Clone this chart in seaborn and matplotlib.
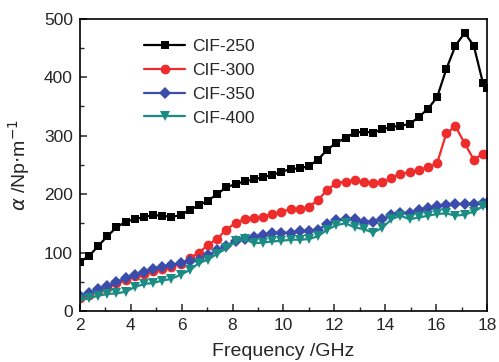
import matplotlib
matplotlib.use("Agg")
import matplotlib.pyplot as plt
import seaborn as sns
import pandas as pd
from matplotlib.ticker import MultipleLocator

freq = [2.00, 2.36, 2.72, 3.08, 3.44, 3.80, 4.16, 4.52, 4.88, 5.24, 5.60, 5.96,
        6.32, 6.68, 7.04, 7.40, 7.76, 8.12, 8.48, 8.84, 9.20, 9.56, 9.92, 10.28,
        10.64, 11.00, 11.36, 11.72, 12.08, 12.44, 12.80, 13.16, 13.52, 13.88,
        14.24, 14.60, 14.96, 15.32, 15.68, 16.04, 16.40, 16.76, 17.12, 17.48,
        17.84, 18.00]

cif250 = [84, 94, 111, 128, 143, 153, 157, 161, 164, 163, 161, 164,
          173, 181, 189, 200, 212, 217, 222, 225, 229, 233, 238, 243,
          244, 248, 259, 276, 288, 296, 305, 307, 305, 311,
          315, 317, 320, 332, 346, 366, 414, 454, 476, 454,
          390, 382]

cif300 = [22, 28, 34, 40, 47, 53, 59, 64, 68, 72, 76, 80,
          90, 100, 113, 124, 139, 151, 157, 159, 161, 166, 170, 174,
          174, 178, 190, 207, 219, 221, 224, 221, 219, 220,
          227, 235, 237, 241, 246, 253, 304, 316, 287, 259,
          269, 268]

cif350 = [25, 31, 37, 43, 50, 56, 62, 67, 71, 75, 79, 82,
          86, 88, 95, 104, 112, 120, 123, 127, 130, 133, 134, 134,
          136, 136, 139, 149, 155, 157, 157, 153, 153, 157,
          164, 168, 168, 172, 176, 179, 182, 183, 183, 183,
          184, 184]

cif400 = [18, 22, 26, 29, 30, 33, 41, 46, 48, 52, 55, 62,
          70, 82, 88, 98, 107, 119, 123, 116, 117, 119, 120, 122,
          122, 123, 128, 139, 147, 150, 143, 140, 134, 142,
          157, 163, 157, 160, 163, 166, 167, 163, 165, 170,
          179, 180]

labels = ["CIF-250", "CIF-300", "CIF-350", "CIF-400"]
colors = ["#000000", "#ee2c2c", "#3a4daa", "#1a8c84"]
markers = ["s", "o", "D", "v"]
msizes = [6, 7, 6, 7]

series = [cif250, cif300, cif350, cif400]
df = pd.concat([pd.DataFrame({"freq": freq, "alpha": s, "sample": lab})
                for s, lab in zip(series, labels)], ignore_index=True)

sns.set_style("ticks")
plt.rcParams["font.family"] = ["Liberation Sans", "DejaVu Sans"]

fig = plt.figure(figsize=(4.99, 3.62), dpi=100)
ax = fig.add_axes([0.160, 0.141, 0.816, 0.807])

for lab, c, m, ms in zip(labels, colors, markers, msizes):
    sns.lineplot(data=df[df["sample"] == lab], x="freq", y="alpha", ax=ax,
                 color=c, marker=m, markersize=ms, markeredgewidth=0,
                 linewidth=1.6, label=lab)

ax.set_xlim(2, 18)
ax.set_ylim(0, 500)
ax.xaxis.set_major_locator(MultipleLocator(2))
ax.xaxis.set_minor_locator(MultipleLocator(1))
ax.yaxis.set_major_locator(MultipleLocator(100))
ax.yaxis.set_minor_locator(MultipleLocator(50))
ax.tick_params(which="both", direction="in", top=False, right=False)
ax.tick_params(which="major", length=5, width=1.1, labelsize=12.5, pad=5)
ax.tick_params(which="minor", length=3, width=1.0)
for sp in ax.spines.values():
    sp.set_linewidth(1.2)
    sp.set_color("black")

ax.set_xlabel("Frequency /GHz", fontsize=14)
ax.set_ylabel(r"$\alpha$ /Np$\cdot$m$^{-1}$", fontsize=14)
ax.xaxis.set_label_coords(0.5, -0.11)
ax.yaxis.set_label_coords(-0.118, 0.5)

leg = ax.legend(loc="upper left", bbox_to_anchor=(0.14, 0.955), frameon=False,
                fontsize=12.5, handlelength=2.4, handletextpad=0.4,
                labelspacing=0.5, borderaxespad=0)

fig.savefig("out.png", dpi=100)
